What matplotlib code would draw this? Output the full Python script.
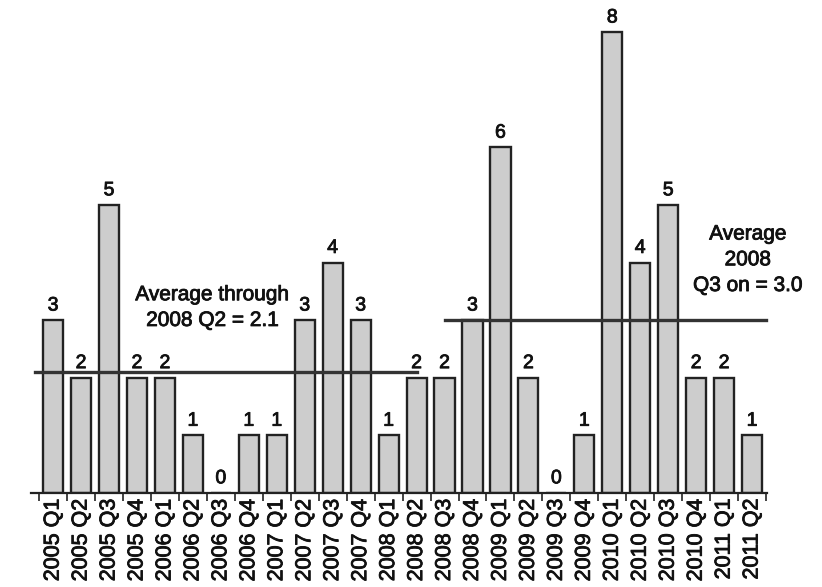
import numpy as np
import matplotlib
matplotlib.use("Agg")
import matplotlib.pyplot as plt
import matplotlib.patheffects as pe

# quarterly counts, 2005 Q1 .. 2011 Q2
quarters = ["2005 Q1", "2005 Q2", "2005 Q3", "2005 Q4",
            "2006 Q1", "2006 Q2", "2006 Q3", "2006 Q4",
            "2007 Q1", "2007 Q2", "2007 Q3", "2007 Q4",
            "2008 Q1", "2008 Q2", "2008 Q3", "2008 Q4",
            "2009 Q1", "2009 Q2", "2009 Q3", "2009 Q4",
            "2010 Q1", "2010 Q2", "2010 Q3", "2010 Q4",
            "2011 Q1", "2011 Q2"]
counts = [3, 2, 5, 2, 2, 1, 0, 1, 1, 3, 4, 3, 1, 2,
          2, 3, 6, 2, 0, 1, 8, 4, 5, 2, 2, 1]

# averages for the two periods (split after 2008 Q2)
avg_early = 2.1
avg_late = 3.0
split = quarters.index("2008 Q2")

plt.rcParams["font.family"] = ["Liberation Sans", "DejaVu Sans"]
heavy = [pe.withStroke(linewidth=0.6, foreground="#111111")]

fig = plt.figure(figsize=(8.22, 5.87), dpi=100)
ax = fig.add_axes([0.0, 0.16, 1.0, 0.84])

x = np.arange(len(quarters))
ax.bar(x, counts, width=0.72, color="#cdcdcd", edgecolor="#222222",
       linewidth=1.7, zorder=2)

for xi, c in zip(x, counts):
    ax.text(xi, c + 0.1, str(c), ha="center", va="bottom",
            fontsize=14, color="#111111", zorder=4, path_effects=heavy)

# period averages drawn across the bars
ax.plot([-0.65, split], [avg_early, avg_early], color="#333333",
        linewidth=2.4, zorder=3)
ax.plot([split + 1, len(quarters) - 0.5], [avg_late, avg_late],
        color="#333333", linewidth=2.4, zorder=3)

ax.text(5.7, 3.22, "Average through\n2008 Q2 = %.1f" % avg_early,
        ha="center", va="center", fontsize=15, linespacing=1.45,
        color="#111111", zorder=4, path_effects=heavy)
ax.text(24.85, 4.05, "Average\n2008\nQ3 on = %.1f" % avg_late,
        ha="center", va="center", fontsize=15, linespacing=1.45,
        color="#111111", zorder=4, path_effects=heavy)

ax.set_xlim(-1.9, 27.5)
ax.set_ylim(0, 8.56)

for side in ["top", "right", "left"]:
    ax.spines[side].set_visible(False)
ax.spines["bottom"].set_bounds(-0.8, len(quarters) - 0.45)
ax.spines["bottom"].set_linewidth(1.6)
ax.spines["bottom"].set_color("#222222")

ax.set_yticks([])
ax.set_xticks(x)
ax.set_xticklabels(quarters, rotation=90, fontsize=15.5, color="#111111")
for lbl in ax.get_xticklabels():
    lbl.set_path_effects(heavy)
ax.tick_params(axis="x", which="major", length=0, pad=4)
ax.set_xticks(np.arange(-0.5, len(quarters)), minor=True)
ax.tick_params(axis="x", which="minor", length=6, width=1.2, color="#222222")

fig.savefig("out.png", dpi=100)
